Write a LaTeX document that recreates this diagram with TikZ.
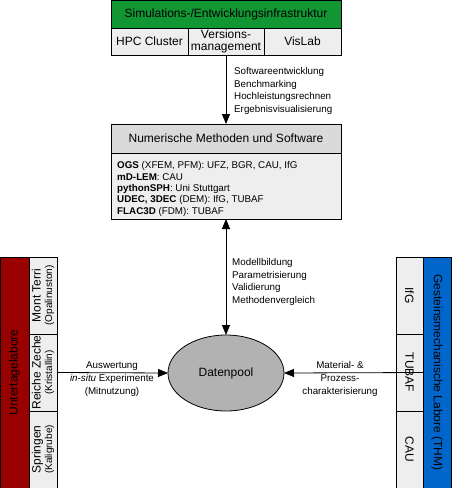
\documentclass[tikz,border=0pt]{standalone}
\usepackage{fontspec}
\setmainfont{Liberation Sans}
\usetikzlibrary{arrows.meta,shapes.geometric}
\definecolor{infragreen}{RGB}{17,150,51}
\definecolor{labred}{RGB}{153,0,0}
\definecolor{labblue}{RGB}{0,102,204}
\definecolor{boxgray}{RGB}{238,238,238}
\definecolor{headgray}{RGB}{218,218,218}
\definecolor{poolgray}{RGB}{178,178,178}
\newcommand{\labsmall}{\fontsize{10}{12}\selectfont}
\tikzset{
	box/.style={draw, line width=0.8pt, fill=boxgray, inner sep=0pt, outer sep=0pt, align=center, font=\fontsize{12}{13.5}\selectfont},
	note/.style={align=left, inner sep=0pt, font=\fontsize{9.8}{12.7}\selectfont},
	flow/.style={line width=0.8pt, -{Triangle[length=10pt,width=8pt]}},
	flowboth/.style={line width=0.8pt, {Triangle[length=10pt,width=8pt]}-{Triangle[length=10pt,width=8pt]}},
}

\begin{document}
\begin{tikzpicture}[x=1pt, y=-1pt]
		%%%%% START %%%%%
		\useasboundingbox (0, 0) rectangle (451, 488);
		
		% infrastructure
		\node[box, fill=infragreen, minimum width=230, minimum height=28] (infra) at (226, 14) {Simulations-/Entwicklungsinfrastruktur};
		\node[box, minimum width=77, minimum height=27] (hpc) at (149.5, 41.5) {HPC Cluster};
		\node[box, minimum width=76, minimum height=27] (vers) at (226, 41.5) {Versions-\\[-1pt]management};
		\node[box, minimum width=77, minimum height=27] (vislab) at (302.5, 41.5) {VisLab};
		
		% numerical methods
		\node[box, fill=headgray, minimum width=230, minimum height=29] (nummeth) at (226, 138.5) {Numerische Methoden und Software};
		\node[box, minimum width=230, minimum height=66] (numbody) at (226, 186) {};
		\node[note, anchor=west, font=\fontsize{9.8}{11.4}\selectfont] (numtxt) at (117, 189) {\textbf{OGS} (XFEM, PFM): UFZ, BGR, CAU, IfG\\\textbf{mD-LEM}: CAU\\\textbf{pythonSPH}: Uni Stuttgart\\\textbf{UDEC, 3DEC} (DEM): IfG, TUBAF\\\textbf{FLAC3D} (FDM): TUBAF};
		
		% data pool
		\node[box, ellipse, fill=poolgray, minimum width=116, minimum height=76] (pool) at (226, 373) {Datenpool};
		
		% underground labs
		\node[box, fill=labred, rotate=90, minimum width=231, minimum height=29] (ulab) at (14.5, 372.5) {Untertagelabore};
		\node[box, rotate=90, minimum width=77, minimum height=28] (mt) at (43, 295.5) {Mont Terri\\[-2pt]{\labsmall (Opalinuston)}};
		\node[box, rotate=90, minimum width=77, minimum height=28] (rz) at (43, 372.5) {Reiche Zeche\\[-2pt]{\labsmall (Kristallin)}};
		\node[box, rotate=90, minimum width=77, minimum height=28] (spr) at (43, 449.5) {Springen\\[-2pt]{\labsmall (Kaligrube)}};
		
		% rock mechanics labs
		\node[box, fill=labblue, rotate=-90, minimum width=231, minimum height=28] (glab) at (437, 372.5) {Gesteinsmechanische Labore (THM)};
		\node[box, rotate=-90, minimum width=77, minimum height=27] (ifg) at (409.5, 295.5) {IfG};
		\node[box, rotate=-90, minimum width=77, minimum height=27] (tubaf) at (409.5, 372.5) {TUBAF};
		\node[box, rotate=-90, minimum width=77, minimum height=27] (cau) at (409.5, 449.5) {CAU};
		
		% connectors
		\draw[flow] (vers.south) -- (nummeth.north);
		\node[note, anchor=west] (swtxt) at (234, 91) {Softwareentwicklung\\Benchmarking\\Hochleistungsrechnen\\Ergebnisvisualisierung};
		
		\draw[flowboth] (numbody.south) -- (pool.north);
		\node[note, anchor=west] (modtxt) at (232, 282) {Modellbildung\\Parametrisierung\\Validierung\\Methodenvergleich};
		
		\draw[flow] (rz.south) -- (pool.west);
		\node[note, align=center] (auswtxt) at (112, 379) {Auswertung\\\textit{in-situ} Experimente\\(Mitnutzung)};
		
		\draw[flow] (tubaf.north) -- (pool.east);
		\node[note, align=center] (mattxt) at (340, 379) {Material- \&\\Prozess-\\charakterisierung};
		
		%%%%% END %%%%%
	\end{tikzpicture}
\end{document}
